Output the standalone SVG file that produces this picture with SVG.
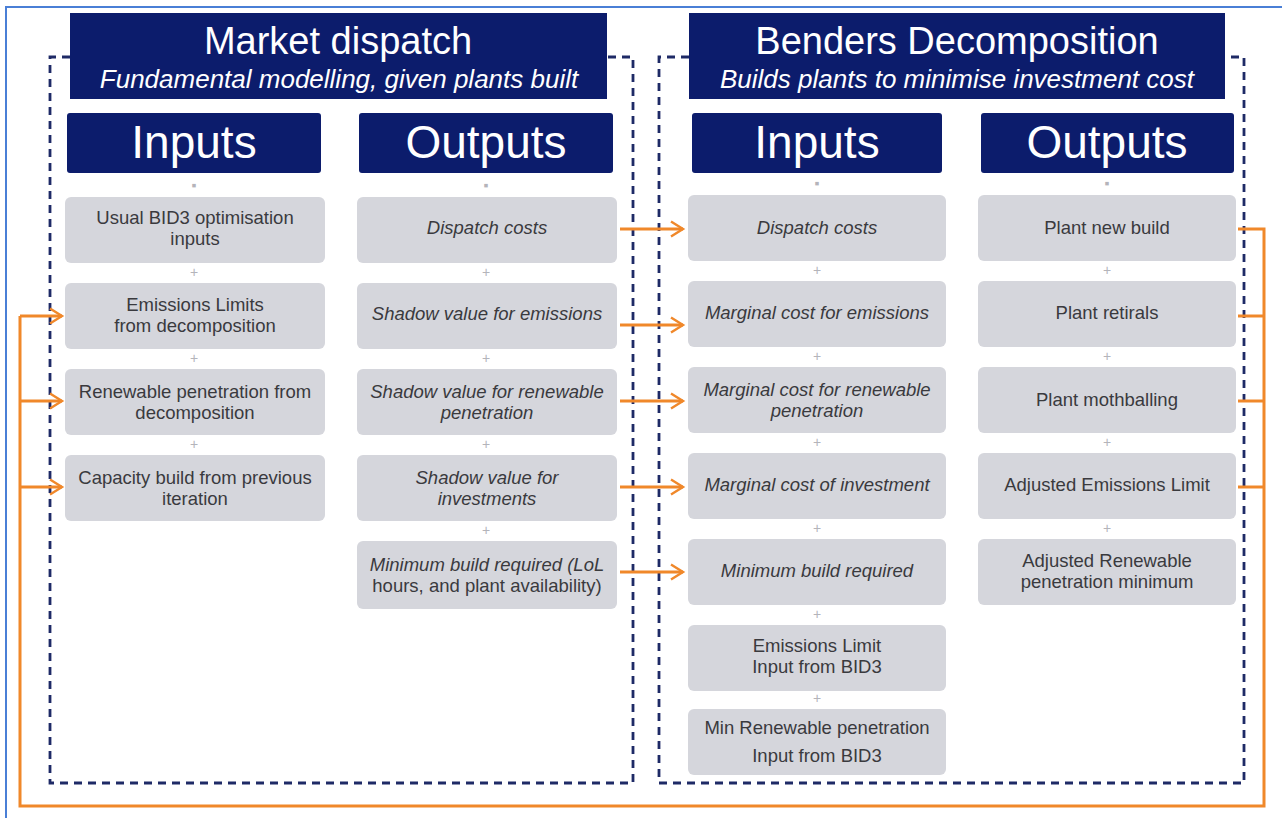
<svg xmlns="http://www.w3.org/2000/svg" width="1282" height="818" viewBox="0 0 1282 818">
  <defs>
    <style>
      .title { fill: #0c1c6c; }
      .hdr { fill: #0c1c6c; }
      .box { fill: #d5d6dc; }
      .dash { fill: none; stroke: #1e2a66; stroke-width: 2.8; stroke-dasharray: 8 6; }
      .flow { fill: none; stroke: #f0882a; stroke-width: 3; }
      .t1 { font-family: "Liberation Sans", Arial, sans-serif; fill: #ffffff; font-size: 38px; text-anchor: middle; }
      .t2 { font-family: "Liberation Sans", Arial, sans-serif; fill: #ffffff; font-size: 26px; font-style: italic; text-anchor: middle; }
      .th { font-family: "Liberation Sans", Arial, sans-serif; fill: #ffffff; font-size: 46px; text-anchor: middle; }
      .tb { font-family: "Liberation Sans", Arial, sans-serif; fill: #3a3a3e; font-size: 18.5px; text-anchor: middle; }
      .ti { font-family: "Liberation Sans", Arial, sans-serif; fill: #3a3a3e; font-size: 18.5px; font-style: italic; text-anchor: middle; }
      .plus { font-family: "Liberation Sans", Arial, sans-serif; fill: #b4b4ba; font-size: 14px; text-anchor: middle; }
    </style>
    <marker id="arr" viewBox="0 0 12 12" refX="10" refY="6" markerWidth="6" markerHeight="6" orient="auto" markerUnits="strokeWidth">
      <path d="M2,1 L10,6 L2,11" fill="none" stroke="#f0882a" stroke-width="1.6"/>
    </marker>
  </defs>

  <rect width="1282" height="818" fill="#ffffff"/>
  <!-- frame edges -->
  <path d="M6,818 V7 H1282" fill="none" stroke="#4a7fd6" stroke-width="2"/>

  <!-- dashed section containers -->
  <g id="containers">
    <path class="dash" d="M70,57 H50 V783 H633 V57 H606"/>
    <path class="dash" d="M689,57 H659 V783 H1244 V57 H1225"/>
  </g>

  <!-- feedback loops and transfers -->
  <g id="connectors">
    <path class="flow" d="M1238,229 H1264 V806 H20 V316"/>
    <path class="flow" d="M1238,316 H1264"/>
    <path class="flow" d="M1238,401 H1264"/>
    <path class="flow" d="M1238,487 H1264"/>
    <path class="flow" d="M20,316 H62" marker-end="url(#arr)"/>
    <path class="flow" d="M20,401 H62" marker-end="url(#arr)"/>
    <path class="flow" d="M20,487 H62" marker-end="url(#arr)"/>
    <path class="flow" d="M620,229 H683" marker-end="url(#arr)"/>
    <path class="flow" d="M620,325 H683" marker-end="url(#arr)"/>
    <path class="flow" d="M620,401 H683" marker-end="url(#arr)"/>
    <path class="flow" d="M620,487 H683" marker-end="url(#arr)"/>
    <path class="flow" d="M620,572 H683" marker-end="url(#arr)"/>
  </g>

  <!-- section titles -->
  <g id="title-market">
    <rect class="title" x="70" y="13" width="537" height="86"/>
    <text class="t1" x="338" y="54">Market dispatch</text>
    <text class="t2" x="339" y="88">Fundamental modelling, given plants built</text>
  </g>
  <g id="title-benders">
    <rect class="title" x="689" y="13" width="536" height="86"/>
    <text class="t1" x="957" y="54">Benders Decomposition</text>
    <text class="t2" x="957" y="88">Builds plants to minimise investment cost</text>
  </g>

  <!-- column headers -->
  <g id="hdr-md-inputs">
    <rect class="hdr" x="67" y="113" width="254" height="60" rx="3"/>
    <text class="th" x="194" y="158">Inputs</text>
  </g>
  <g id="hdr-md-outputs">
    <rect class="hdr" x="359" y="113" width="254" height="60" rx="3"/>
    <text class="th" x="486" y="158">Outputs</text>
  </g>
  <g id="hdr-bd-inputs">
    <rect class="hdr" x="692" y="113" width="250" height="60" rx="3"/>
    <text class="th" x="817" y="158">Inputs</text>
  </g>
  <g id="hdr-bd-outputs">
    <rect class="hdr" x="981" y="113" width="253" height="60" rx="3"/>
    <text class="th" x="1107" y="158">Outputs</text>
  </g>

  <!-- small joints between stacked items -->
  <g id="joints">
    <text class="plus" x="194" y="190">▪</text>
    <text class="plus" x="486" y="190">▪</text>
    <text class="plus" x="817" y="188">▪</text>
    <text class="plus" x="1107" y="188">▪</text>
    <text class="plus" x="194" y="277">+</text>
    <text class="plus" x="194" y="363">+</text>
    <text class="plus" x="194" y="449">+</text>
    <text class="plus" x="486" y="277">+</text>
    <text class="plus" x="486" y="363">+</text>
    <text class="plus" x="486" y="449">+</text>
    <text class="plus" x="486" y="535">+</text>
    <text class="plus" x="817" y="275">+</text>
    <text class="plus" x="817" y="361">+</text>
    <text class="plus" x="817" y="447">+</text>
    <text class="plus" x="817" y="533">+</text>
    <text class="plus" x="817" y="619">+</text>
    <text class="plus" x="817" y="703">+</text>
    <text class="plus" x="1107" y="275">+</text>
    <text class="plus" x="1107" y="361">+</text>
    <text class="plus" x="1107" y="447">+</text>
    <text class="plus" x="1107" y="533">+</text>
  </g>

  <!-- market dispatch inputs -->
  <g id="md-in-1">
    <rect class="box" x="65" y="197" width="260" height="66" rx="6"/>
    <text class="tb" x="195" y="224">Usual BID3 optimisation</text>
    <text class="tb" x="195" y="245">inputs</text>
  </g>
  <g id="md-in-2">
    <rect class="box" x="65" y="283" width="260" height="66" rx="6"/>
    <text class="tb" x="195" y="311">Emissions Limits</text>
    <text class="tb" x="195" y="332">from decomposition</text>
  </g>
  <g id="md-in-3">
    <rect class="box" x="65" y="369" width="260" height="66" rx="6"/>
    <text class="tb" x="195" y="398">Renewable  penetration  from</text>
    <text class="tb" x="195" y="419">decomposition</text>
  </g>
  <g id="md-in-4">
    <rect class="box" x="65" y="455" width="260" height="66" rx="6"/>
    <text class="tb" x="195" y="484">Capacity  build from  previous</text>
    <text class="tb" x="195" y="505">iteration</text>
  </g>

  <!-- market dispatch outputs -->
  <g id="md-out-1">
    <rect class="box" x="357" y="197" width="260" height="66" rx="6"/>
    <text class="ti" x="487" y="234">Dispatch costs</text>
  </g>
  <g id="md-out-2">
    <rect class="box" x="357" y="283" width="260" height="66" rx="6"/>
    <text class="ti" x="487" y="320">Shadow  value  for emissions</text>
  </g>
  <g id="md-out-3">
    <rect class="box" x="357" y="369" width="260" height="66" rx="6"/>
    <text class="ti" x="487" y="398">Shadow  value  for renewable</text>
    <text class="ti" x="487" y="419">penetration</text>
  </g>
  <g id="md-out-4">
    <rect class="box" x="357" y="455" width="260" height="66" rx="6"/>
    <text class="ti" x="487" y="484">Shadow  value  for</text>
    <text class="ti" x="487" y="505">investments</text>
  </g>
  <g id="md-out-5">
    <rect class="box" x="357" y="541" width="260" height="68" rx="6"/>
    <text class="ti" x="487" y="571">Minimum  build required  (LoL</text>
    <text class="tb" x="487" y="592">hours,  and  plant  availability)</text>
  </g>

  <!-- benders inputs -->
  <g id="bd-in-1">
    <rect class="box" x="688" y="195" width="258" height="66" rx="6"/>
    <text class="ti" x="817" y="234">Dispatch costs</text>
  </g>
  <g id="bd-in-2">
    <rect class="box" x="688" y="281" width="258" height="66" rx="6"/>
    <text class="ti" x="817" y="319">Marginal  cost for emissions</text>
  </g>
  <g id="bd-in-3">
    <rect class="box" x="688" y="367" width="258" height="66" rx="6"/>
    <text class="ti" x="817" y="396">Marginal  cost for renewable</text>
    <text class="ti" x="817" y="417">penetration</text>
  </g>
  <g id="bd-in-4">
    <rect class="box" x="688" y="453" width="258" height="66" rx="6"/>
    <text class="ti" x="817" y="491">Marginal  cost of investment</text>
  </g>
  <g id="bd-in-5">
    <rect class="box" x="688" y="539" width="258" height="66" rx="6"/>
    <text class="ti" x="817" y="577">Minimum  build required</text>
  </g>
  <g id="bd-in-6">
    <rect class="box" x="688" y="625" width="258" height="66" rx="6"/>
    <text class="tb" x="817" y="652">Emissions Limit</text>
    <text class="tb" x="817" y="673">Input from  BID3</text>
  </g>
  <g id="bd-in-7">
    <rect class="box" x="688" y="709" width="258" height="66" rx="6"/>
    <text class="tb" x="817" y="734">Min Renewable  penetration</text>
    <text class="tb" x="817" y="762">Input from  BID3</text>
  </g>

  <!-- benders outputs -->
  <g id="bd-out-1">
    <rect class="box" x="978" y="195" width="258" height="66" rx="6"/>
    <text class="tb" x="1107" y="234">Plant new build</text>
  </g>
  <g id="bd-out-2">
    <rect class="box" x="978" y="281" width="258" height="66" rx="6"/>
    <text class="tb" x="1107" y="319">Plant retirals</text>
  </g>
  <g id="bd-out-3">
    <rect class="box" x="978" y="367" width="258" height="66" rx="6"/>
    <text class="tb" x="1107" y="406">Plant mothballing</text>
  </g>
  <g id="bd-out-4">
    <rect class="box" x="978" y="453" width="258" height="66" rx="6"/>
    <text class="tb" x="1107" y="491">Adjusted  Emissions Limit</text>
  </g>
  <g id="bd-out-5">
    <rect class="box" x="978" y="539" width="258" height="66" rx="6"/>
    <text class="tb" x="1107" y="567">Adjusted  Renewable</text>
    <text class="tb" x="1107" y="588">penetration  minimum</text>
  </g>
</svg>
